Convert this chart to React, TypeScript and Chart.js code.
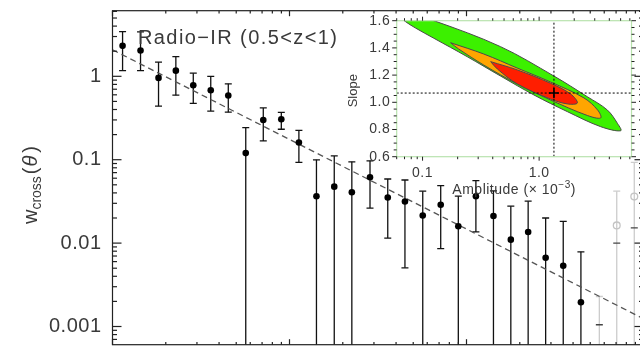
import { useEffect, useRef } from "react";
import { Chart, registerables } from "chart.js";

Chart.register(...registerables);

const FONT = '"Liberation Sans", Arial, sans-serif';
const TEXT = "#3a3a3a";

// ---------------- main panel: w_cross(theta), theta in degrees ----------------
const theta = [0.00114, 0.00144, 0.00182, 0.00228, 0.00286, 0.00359, 0.00451, 0.00566, 0.00711, 0.00899, 0.0113, 0.0142, 0.0179, 0.0225, 0.0285, 0.0359, 0.0449, 0.0566, 0.0715, 0.0899, 0.113, 0.142, 0.178, 0.223, 0.28, 0.352, 0.443];
const wCross = [2.32, 2.04, 0.957, 1.17, 0.781, 0.681, 0.589, 0.12, 0.299, 0.305, 0.161, 0.0365, 0.0475, 0.0408, 0.0615, 0.0352, 0.0315, 0.0214, 0.0288, 0.0159, 0.0365, 0.0211, 0.011, 0.0136, 0.00667, 0.00535, 0.00195];
const wUpper = [3.44, 3.41, 1.48, 1.72, 1.09, 1.0, 0.812, 0.243, 0.418, 0.369, 0.225, 0.0998, 0.111, 0.0944, 0.097, 0.0587, 0.0571, 0.0419, 0.0489, 0.0365, 0.056, 0.0422, 0.0277, 0.0318, 0.02, 0.0182, 0.00785];
// null: lower error reaches below the axis
const wLower: (number | null)[] = [1.17, 1.17, 0.439, 0.594, 0.473, 0.383, 0.372, null, 0.168, 0.232, 0.0929, null, null, null, 0.0263, 0.0115, 0.00506, null, 0.0086, null, 0.0136, null, null, null, null, null, null];

// excluded (grey) points at large separations
const grayTheta = [0.563, 0.706, 0.887];
const grayW: (number | null)[] = [null, 0.0163, 0.0361];
const grayUpper = [0.00229, 0.0419, 0.0931];
const grayCap = [0.00105, 0.01, 0.0152];

// best-fit power law (end points)
const fitTheta = [0.001, 1];
const fitW = [2.08, 0.00124];

const thetaRange = [0.001, 1];
const wRange = [6.05e-4, 6.12];
const yTickValues = [0.001, 0.01, 0.1, 1];
const yTickLabels = ["0.001", "0.01", "0.1", "1"];
const panelLabel = "Radio\u2212IR (0.5<z<1)";

// ---------------- inset: amplitude / slope confidence contours ----------------
const ampRange = [0.06, 6.2];
const slopeRange = [0.6, 1.6];
const ampTickValues = [0.1, 1];
const ampTickLabels = ["0.1", "1.0"];
const slopeTickValues = [0.6, 0.8, 1.0, 1.2, 1.4, 1.6];
const slopeTickLabels = ["0.6", "0.8", "1.0", "1.2", "1.4", "1.6"];

const greenAmp = [0.0481, 0.125, 0.467, 1.34, 2.59, 3.85, 4.69, 5.01, 3.37, 1.75, 0.902, 0.467, 0.242, 0.125, 0.0871, 0.0701, 0.0481];
const greenSlope = [1.708, 1.6, 1.409, 1.193, 1.041, 0.943, 0.846, 0.791, 0.821, 0.931, 1.054, 1.193, 1.335, 1.471, 1.546, 1.598, 1.708];
const orangeAmp = [0.174, 0.335, 0.648, 1.255, 2.424, 3.178, 3.372, 2.593, 1.255, 0.648, 0.335, 0.204, 0.174];
const orangeSlope = [1.438, 1.355, 1.252, 1.149, 1.032, 0.943, 0.885, 0.903, 1.017, 1.135, 1.274, 1.392, 1.438];
const redAmp = [0.384, 0.65, 1.255, 1.864, 2.128, 1.746, 1.255, 0.65, 0.438, 0.384];
const redSlope = [1.299, 1.238, 1.14, 1.061, 0.995, 0.988, 1.024, 1.135, 1.245, 1.299];
const bestAmp = [1.34];
const bestSlope = [1.068];

function seg(ctx: CanvasRenderingContext2D, x1: number, y1: number, x2: number, y2: number) {
  ctx.beginPath();
  ctx.moveTo(x1, y1);
  ctx.lineTo(x2, y2);
  ctx.stroke();
}

const mainDecor = {
  id: "mainDecor",
  beforeDatasetsDraw(chart: any) {
    const { ctx, chartArea: a } = chart;
    const xs = chart.scales.x;
    const ys = chart.scales.y;
    ctx.save();
    ctx.beginPath();
    ctx.rect(a.left, a.top, a.right - a.left, a.bottom - a.top);
    ctx.clip();
    ctx.lineWidth = 1.3;
    // grey bars
    grayTheta.forEach((t, i) => {
      const px = xs.getPixelForValue(t);
      const top = ys.getPixelForValue(grayUpper[i]);
      ctx.strokeStyle = "#cccccc";
      seg(ctx, px, top, px, a.bottom + 2);
      seg(ctx, px - 3.5, top, px + 3.5, top);
      const c = ys.getPixelForValue(grayCap[i]);
      ctx.strokeStyle = "#444";
      seg(ctx, px - 3.5, c, px + 3.5, c);
    });
    // black bars
    ctx.strokeStyle = "#111";
    theta.forEach((t, i) => {
      const px = xs.getPixelForValue(t);
      const top = ys.getPixelForValue(wUpper[i]);
      const lo = wLower[i];
      const bot = lo == null ? a.bottom + 2 : ys.getPixelForValue(lo);
      seg(ctx, px, top, px, bot);
      seg(ctx, px - 3.5, top, px + 3.5, top);
      if (lo != null) seg(ctx, px - 3.5, bot, px + 3.5, bot);
    });
    ctx.restore();
  },
  afterDraw(chart: any) {
    const { ctx, chartArea: a } = chart;
    const xs = chart.scales.x;
    const ys = chart.scales.y;
    ctx.save();
    ctx.strokeStyle = "#222";
    ctx.lineWidth = 1.2;
    ctx.strokeRect(a.left, a.top, a.right - a.left, a.bottom - a.top);
    for (let e = -4; e <= 0; e++) {
      for (let k = 1; k <= 9; k++) {
        const v = k * Math.pow(10, e);
        if (v < wRange[0] || v > wRange[1]) continue;
        const py = ys.getPixelForValue(v);
        const len = k === 1 ? 9 : 4.5;
        seg(ctx, a.left, py, a.left + len, py);
        seg(ctx, a.right, py, a.right - len, py);
      }
    }
    for (let e = -3; e <= 0; e++) {
      for (let k = 1; k <= 9; k++) {
        const v = k * Math.pow(10, e);
        if (v < thetaRange[0] || v > thetaRange[1]) continue;
        const px = xs.getPixelForValue(v);
        const len = k === 1 ? 5.5 : 2.8;
        seg(ctx, px, a.top, px, a.top + len);
        seg(ctx, px, a.bottom, px, a.bottom - len);
      }
    }
    ctx.fillStyle = TEXT;
    ctx.font = `20px ${FONT}`;
    (ctx as any).letterSpacing = "0.5px";
    ctx.textAlign = "right";
    ctx.textBaseline = "middle";
    yTickValues.forEach((v, i) => {
      ctx.fillText(yTickLabels[i], a.left - 11, ys.getPixelForValue(v));
    });
    // panel label
    (ctx as any).letterSpacing = "1.4px";
    ctx.textAlign = "left";
    ctx.font = `20px ${FONT}`;
    ctx.fillText(panelLabel, 138, 38);
    (ctx as any).letterSpacing = "0px";
    // y title: w_cross(theta), rotated
    ctx.save();
    ctx.translate(37, 185);
    ctx.rotate(-Math.PI / 2);
    ctx.textAlign = "left";
    ctx.textBaseline = "alphabetic";
    const big = `20px ${FONT}`;
    const small = `14px ${FONT}`;
    const th = `italic 20px ${FONT}`;
    ctx.font = big;
    const w1 = ctx.measureText("w").width;
    ctx.font = small;
    const w2 = ctx.measureText("cross").width;
    ctx.font = big;
    const w3 = ctx.measureText("(").width;
    ctx.font = th;
    const w4 = ctx.measureText("\u03B8").width + 2;
    ctx.font = big;
    const w5 = ctx.measureText(")").width;
    let x0 = -(w1 + w2 + w3 + w4 + w5 + 4) / 2;
    ctx.font = big;
    ctx.fillText("w", x0, 0);
    x0 += w1;
    ctx.font = small;
    ctx.fillText("cross", x0, 4);
    x0 += w2 + 2;
    ctx.font = big;
    ctx.fillText("(", x0, 0);
    x0 += w3 + 1;
    ctx.font = th;
    ctx.fillText("\u03B8", x0, 0);
    x0 += w4 + 1;
    ctx.font = big;
    ctx.fillText(")", x0, 0);
    ctx.restore();
    ctx.restore();
  },
};

const insetDecor = {
  id: "insetDecor",
  beforeDraw(chart: any) {
    const { ctx, chartArea: a } = chart;
    ctx.save();
    ctx.fillStyle = "#ffffff";
    ctx.fillRect(a.left, a.top, a.right - a.left, a.bottom - a.top);
    ctx.restore();
  },
  afterDraw(chart: any) {
    const { ctx, chartArea: a } = chart;
    const xs = chart.scales.x;
    const ys = chart.scales.y;
    ctx.save();
    ctx.strokeStyle = "#b9e3ae";
    ctx.lineWidth = 1.2;
    ctx.strokeRect(a.left, a.top, a.right - a.left, a.bottom - a.top);
    ctx.strokeStyle = "#222";
    ctx.lineWidth = 1;
    for (let e = -2; e <= 0; e++) {
      for (let k = 1; k <= 9; k++) {
        const v = k * Math.pow(10, e);
        if (v < ampRange[0] || v > ampRange[1]) continue;
        const px = xs.getPixelForValue(v);
        const len = k === 1 ? 4 : 2.5;
        seg(ctx, px, a.bottom, px, a.bottom + len);
        seg(ctx, px, a.top, px, a.top - len);
      }
    }
    for (let s = 0; s <= 20; s++) {
      const v = slopeRange[0] + s * 0.05;
      const py = ys.getPixelForValue(v);
      const len = s % 4 === 0 ? 4.5 : 3;
      seg(ctx, a.left, py, a.left - len, py);
      seg(ctx, a.right, py, a.right + len, py);
    }
    ctx.fillStyle = TEXT;
    ctx.font = `14px ${FONT}`;
    (ctx as any).letterSpacing = "0.5px";
    ctx.textAlign = "right";
    ctx.textBaseline = "middle";
    slopeTickValues.forEach((v, i) => {
      ctx.fillText(slopeTickLabels[i], a.left - 6.5, ys.getPixelForValue(v));
    });
    ctx.textAlign = "center";
    ampTickValues.forEach((v, i) => {
      ctx.fillText(ampTickLabels[i], xs.getPixelForValue(v), a.bottom + 16.5);
    });
    // x title with superscript
    const t1 = "Amplitude (\u00D7 10";
    const t2 = "\u22123";
    const t3 = ")";
    ctx.textAlign = "left";
    ctx.font = `14px ${FONT}`;
    const m1 = ctx.measureText(t1).width;
    const m3 = ctx.measureText(t3).width;
    ctx.font = `10px ${FONT}`;
    const m2 = ctx.measureText(t2).width;
    let x0 = (a.left + a.right) / 2 - (m1 + m2 + m3) / 2;
    const yb = a.bottom + 33.5;
    ctx.font = `14px ${FONT}`;
    ctx.fillText(t1, x0, yb);
    x0 += m1;
    ctx.font = `10px ${FONT}`;
    ctx.fillText(t2, x0, yb - 5);
    x0 += m2;
    ctx.font = `14px ${FONT}`;
    ctx.fillText(t3, x0, yb);
    (ctx as any).letterSpacing = "0px";
    // y title
    ctx.save();
    ctx.translate(a.left - 43, (a.top + a.bottom) / 2 + 2);
    ctx.rotate(-Math.PI / 2);
    ctx.textAlign = "center";
    ctx.font = `13px ${FONT}`;
    ctx.fillText("Slope", 0, 0);
    ctx.restore();
    ctx.restore();
  },
};

function pts(xs: number[], ys: number[]) {
  return xs.map((x, i) => ({ x, y: ys[i] }));
}

export default function App() {
  const mainRef = useRef<HTMLCanvasElement>(null);
  const insetRef = useRef<HTMLCanvasElement>(null);

  useEffect(() => {
    const main = new Chart(mainRef.current as HTMLCanvasElement, {
      type: "scatter",
      data: {
        datasets: [
          {
            data: pts(theta, wCross),
            pointRadius: 3.3,
            pointBackgroundColor: "#000",
            pointBorderColor: "#000",
            pointBorderWidth: 0,
            order: 0,
          } as any,
          {
            data: grayTheta
              .map((t, i) => ({ x: t, y: grayW[i] }))
              .filter((p) => p.y != null),
            pointRadius: 3.4,
            pointBackgroundColor: "rgba(255,255,255,0)",
            pointBorderColor: "#c4c4c4",
            pointBorderWidth: 1.3,
            order: 1,
          },
          {
            type: "line",
            data: pts(fitTheta, fitW),
            borderColor: "#555",
            borderWidth: 1.3,
            borderDash: [6, 4],
            pointRadius: 0,
            fill: false,
            order: 2,
          },
        ],
      },
      options: {
        responsive: false,
        animation: false,
        devicePixelRatio: 1,
        events: [],
        layout: { padding: { left: 112.5, top: 10.7, right: 16.5, bottom: 3.3 } },
        plugins: { legend: { display: false }, tooltip: { enabled: false } },
        scales: {
          x: { type: "logarithmic", min: thetaRange[0], max: thetaRange[1], bounds: "data", display: false },
          y: { type: "logarithmic", min: wRange[0], max: wRange[1], bounds: "data", display: false },
        },
      } as any,
      plugins: [mainDecor],
    });

    const contour = (xs: number[], ys: number[], color: string, order: number) => ({
      type: "line",
      data: pts(xs, ys),
      borderColor: "#4a4a4a",
      borderWidth: 1,
      backgroundColor: color,
      fill: "shape",
      tension: 0.35,
      pointRadius: 0,
      order,
    });

    const inset = new Chart(insetRef.current as HTMLCanvasElement, {
      type: "scatter",
      data: {
        datasets: [
          {
            data: pts(bestAmp, bestSlope),
            pointStyle: "cross",
            pointRadius: 5,
            pointBorderColor: "#000",
            pointBorderWidth: 1.6,
            order: 0,
          } as any,
          {
            type: "line",
            data: [
              { x: bestAmp[0], y: slopeRange[0] },
              { x: bestAmp[0], y: slopeRange[1] },
            ],
            borderColor: "#000",
            borderWidth: 1,
            borderDash: [2, 2],
            pointRadius: 0,
            fill: false,
            order: 1,
          },
          {
            type: "line",
            data: [
              { x: ampRange[0], y: bestSlope[0] },
              { x: ampRange[1], y: bestSlope[0] },
            ],
            borderColor: "#000",
            borderWidth: 1,
            borderDash: [2, 2],
            pointRadius: 0,
            fill: false,
            order: 1,
          },
          contour(redAmp, redSlope, "#ff1e00", 2),
          contour(orangeAmp, orangeSlope, "#ffa500", 3),
          contour(greenAmp, greenSlope, "#3cf000", 4),
        ],
      },
      options: {
        responsive: false,
        animation: false,
        devicePixelRatio: 1,
        events: [],
        layout: { padding: { left: 66.7, top: 20.7, right: 8.5, bottom: 48.3 } },
        plugins: { legend: { display: false }, tooltip: { enabled: false } },
        scales: {
          x: { type: "logarithmic", min: ampRange[0], max: ampRange[1], bounds: "data", display: false },
          y: { type: "linear", min: slopeRange[0], max: slopeRange[1], bounds: "data", display: false },
        },
      } as any,
      plugins: [insetDecor],
    });

    return () => {
      main.destroy();
      inset.destroy();
    };
  }, []);

  return (
    <div
      style={{
        position: "fixed",
        left: 0,
        top: 0,
        width: 640,
        height: 350,
        overflow: "hidden",
        background: "#fff",
      }}
    >
      <canvas
        ref={mainRef}
        width={660}
        height={350}
        style={{ position: "absolute", left: 0, top: 0, width: 660, height: 350 }}
      />
      <canvas
        ref={insetRef}
        width={310}
        height={205}
        style={{ position: "absolute", left: 330, top: 0, width: 310, height: 205 }}
      />
    </div>
  );
}
